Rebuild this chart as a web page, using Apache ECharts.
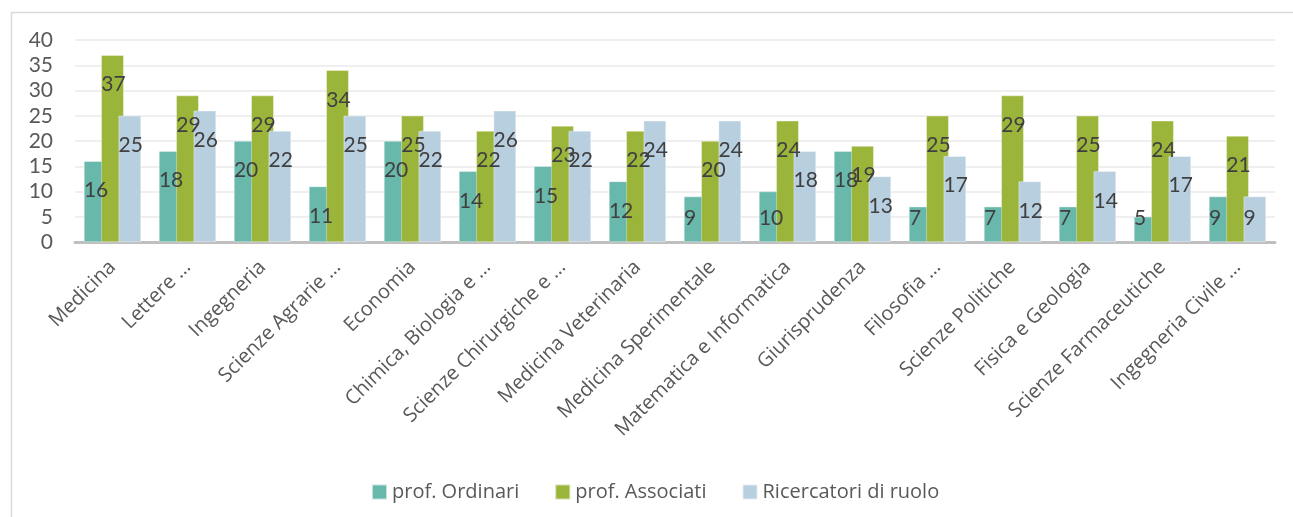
<!DOCTYPE html>
<html>
<head>
<meta charset="utf-8">
<script src="https://cdn.jsdelivr.net/npm/echarts@6/dist/echarts.min.js"></script>
<style>
  html, body { margin: 0; padding: 0; background: #fff; }
  #chart { width: 1293px; height: 517px; }
</style>
</head>
<body>
<div id="chart"></div>
<script>
const categories = ['Medicina', 'Lettere …', 'Ingegneria', 'Scienze Agrarie …', 'Economia',
  'Chimica, Biologia e …', 'Scienze Chirurgiche e …', 'Medicina Veterinaria', 'Medicina Sperimentale',
  'Matematica e Informatica', 'Giurisprudenza', 'Filosofia …', 'Scienze Politiche',
  'Fisica e Geologia', 'Scienze Farmaceutiche', 'Ingegneria Civile …'];
const ordinari = [16, 18, 20, 11, 20, 14, 15, 12, 9, 10, 18, 7, 7, 7, 5, 9];
const associati = [37, 29, 29, 34, 25, 22, 23, 22, 20, 24, 19, 25, 29, 25, 24, 21];
const ricercatori = [25, 26, 22, 25, 22, 26, 22, 24, 24, 18, 13, 17, 12, 14, 17, 9];
const seriesNames = ['prof. Ordinari', 'prof. Associati', 'Ricercatori di ruolo'];
const colors = ['#69b8ac', '#9bb43a', '#b8cfe0'];

const yMax = 40;
const gridTop = 40, gridBottom = 275;
const plotHeight = 517 - gridTop - gridBottom;
const font = 'Lato, "Noto Sans", sans-serif';
const catFont = '"Open Sans", "Noto Sans", sans-serif';

// labels sit ~30px under the bar top, but never closer than 24px to the axis
function withLabels(values) {
  return values.map(v => {
    const h = v * plotHeight / yMax;
    return { value: v, label: { position: [0, Math.min(29.5, h - 24)] } };
  });
}

function makeSeries(name, values, color) {
  return {
    name: name,
    type: 'bar',
    data: withLabels(values),
    barWidth: '30%',
    barGap: '-23%',
    itemStyle: { color: color, borderColor: 'rgba(255,255,255,0.6)', borderWidth: 0.6 },
    label: {
      show: true,
      align: 'left',
      verticalAlign: 'middle',
      color: '#404040',
      fontFamily: font,
      fontSize: 21
    },
    z: 2
  };
}

const chart = echarts.init(document.getElementById('chart'));
chart.setOption({
  animation: false,
  color: colors,
  textStyle: { fontFamily: font },
  graphic: [{
    type: 'rect',
    left: 9, top: 10,
    shape: { width: 1300, height: 520 },
    style: { fill: 'none', stroke: '#d9d9d9', lineWidth: 1.5 },
    silent: true
  }],
  grid: { left: 75, right: 18, top: gridTop, bottom: gridBottom, containLabel: false, outerBoundsMode: 'none' },
  legend: {
    left: 366, top: 477,
    itemWidth: 15, itemHeight: 15, itemGap: 35,
    icon: 'rect',
    textStyle: { color: '#595959', fontSize: 20, fontFamily: catFont },
    data: seriesNames
  },
  xAxis: {
    type: 'category',
    data: categories,
    axisLine: { lineStyle: { color: '#bfbfbf', width: 3 } },
    axisTick: { show: false },
    axisLabel: { rotate: 45, interval: 0, margin: 22, color: '#595959', fontSize: 20, fontFamily: catFont }
  },
  yAxis: {
    type: 'value',
    min: 0, max: yMax, interval: 5,
    axisLine: { show: false },
    axisTick: { show: false },
    axisLabel: { color: '#595959', fontSize: 21, margin: 22, fontFamily: font },
    splitLine: { lineStyle: { color: '#efefef', width: 2 } }
  },
  series: [
    makeSeries(seriesNames[0], ordinari, colors[0]),
    makeSeries(seriesNames[1], associati, colors[1]),
    makeSeries(seriesNames[2], ricercatori, colors[2])
  ]
});
</script>
</body>
</html>
